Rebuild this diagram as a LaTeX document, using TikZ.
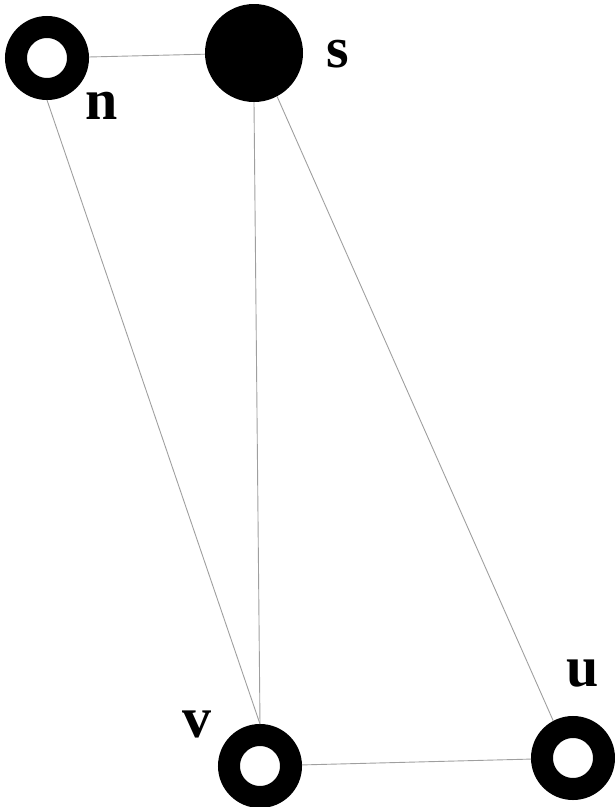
\documentclass[tikz,border=0pt]{standalone}
\usepackage{fontspec}
\setmainfont{Liberation Serif}
\usetikzlibrary{positioning}

\begin{document}
\begin{tikzpicture}[
    x=1pt, y=-1pt,
    ring/.style={draw=black, circle, line width=22pt, minimum size=62pt, inner sep=0pt, fill=white},
    src/.style={circle, fill=black, minimum size=98pt, inner sep=0pt},
    edge/.style={draw=gray!75, line width=0.9pt},
    lbl/.style={font=\fontsize{58}{58}\selectfont\bfseries, inner sep=0pt}
]
\useasboundingbox (0,0) rectangle (615,807);

\node[ring] (n) at (47,58) {};
\node[src] (s) at (254,53) {};
\node[ring] (v) at (260,766) {};
\node[ring] (u) at (573,758) {};

\node[lbl] (nlbl) at (102,106) {n};
\node[lbl] (slbl) at (338,54) {s};
\node[lbl] (vlbl) at (197,724) {v};
\node[lbl] (ulbl) at (583,674) {u};

\draw[edge] (n) -- (s);
\draw[edge] (n.south) -- (v.north);
\draw[edge] (s.south) -- (v.north);
\draw[edge] (s.-62) -- (u.118);
\draw[edge] (v) -- (u);
\end{tikzpicture}
\end{document}
